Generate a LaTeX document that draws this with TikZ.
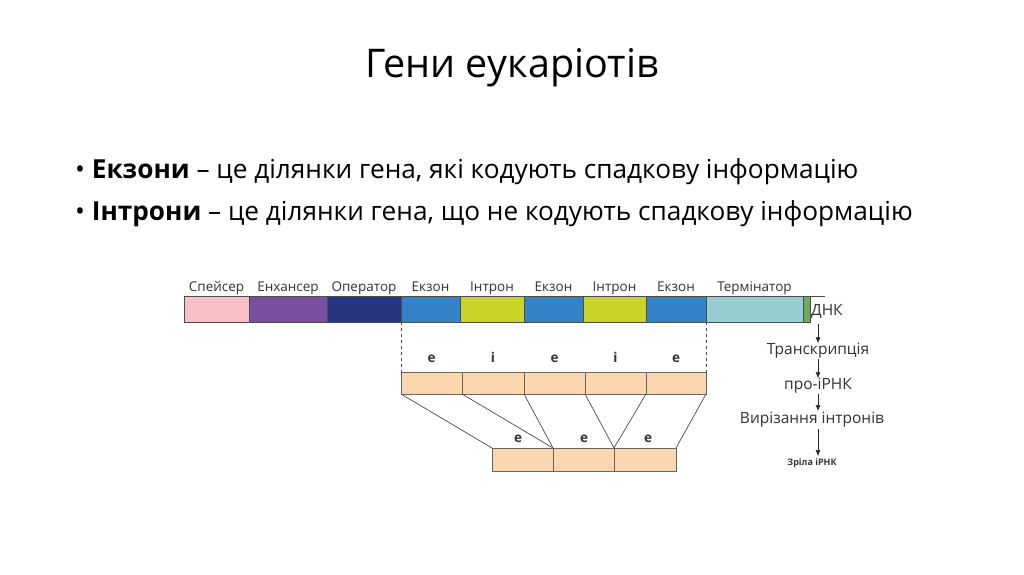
\documentclass[tikz,border=0pt]{standalone}
\usepackage{fontspec}
\setmainfont{Open Sans}
\usetikzlibrary{arrows.meta}
\definecolor{cpink}{RGB}{246,192,198}
\definecolor{cpurple}{RGB}{122,78,160}
\definecolor{cnavy}{RGB}{38,52,130}
\definecolor{cblue}{RGB}{52,130,200}
\definecolor{cyel}{RGB}{200,212,40}
\definecolor{cteal}{RGB}{150,206,210}
\definecolor{cgreen}{RGB}{110,170,90}
\definecolor{cbox}{RGB}{250,214,174}
\begin{document}
\begin{tikzpicture}[x=1pt,y=-1pt,
  seg/.style={draw=black!70,line width=0.6pt},
  box/.style={draw=black!60,fill=cbox,line width=0.6pt},
  lbl/.style={font=\fontsize{13.5}{14}\selectfont,text=black!80,inner sep=0},
  rlbl/.style={font=\fontsize{15.5}{16}\selectfont,text=black!80,inner sep=0},
  conn/.style={black!70,line width=0.7pt},
  arr/.style={-{Latex[length=6pt,width=5pt]},black!85,line width=0.6pt}]
\useasboundingbox (0,0) rectangle (1024,574);
\fill[white] (0,0) rectangle (1024,574);
\node[font=\fontsize{39.5}{42}\selectfont] (title) at (512,68) {Гени еукаріотів};
\node[anchor=west,font=\fontsize{26.2}{28}\selectfont,inner sep=0] (b1) at (75,172) {• \textbf{Екзони} – це ділянки гена, які кодують спадкову інформацію};
\node[anchor=west,font=\fontsize{26.2}{28}\selectfont,inner sep=0] (b2) at (75,214) {• \textbf{Інтрони} – це ділянки гена, що не кодують спадкову інформацію};
% top bar
\draw[black!70,line width=0.6pt] (184,296) -- (825,296);
\foreach \a/\b/\c/\t in {184/249/cpink/Спейсер,249/327/cpurple/Енхансер,327/401/cnavy/Оператор,401/460/cblue/Екзон,460/524/cyel/Інтрон,524/583/cblue/Екзон,583/646/cyel/Інтрон,646/706/cblue/Екзон,706/803/cteal/Термінатор}{
  \fill[\c] (\a,296) rectangle (\b,322);
  \draw[seg] (\a,296) rectangle (\b,322);
  \node[lbl,anchor=base] at ({(\a+\b)/2},291) {\t};
}
\fill[cgreen] (803,296) rectangle (810,322);
\draw[seg] (803,296) rectangle (810,322);
% middle row
\foreach \a/\b/\t in {401/462/e,462/524/i,524/585/e,585/646/i,646/706/e}{
  \draw[box] (\a,372) rectangle (\b,394);
  \node[lbl,anchor=base,font=\bfseries\fontsize{13.5}{14}\selectfont] at ({(\a+\b)/2},362) {\t};
}
\coordinate (m0) at (401,394); \coordinate (m1) at (462,394); \coordinate (m2) at (524,394);
\coordinate (m3) at (585,394); \coordinate (m4) at (646,394); \coordinate (m5) at (706,394);
\draw[dashed,black!70] (401,322) -- (401,372);
\draw[dashed,black!70] (706,322) -- (706,372);
% bottom row
\foreach \a/\b/\x in {492/553/518,553/614/584,614/676/648}{
  \draw[box] (\a,448) rectangle (\b,471);
  \node[lbl,anchor=base,font=\bfseries\fontsize{13.5}{14}\selectfont] at (\x,442) {e};
}
\coordinate (n0) at (492,448); \coordinate (n1) at (553,448); \coordinate (n2) at (614,448); \coordinate (n3) at (676,448);
\draw[conn] (m0) -- (n0); \draw[conn] (m1) -- (n1); \draw[conn] (m2) -- (n1);
\draw[conn] (m3) -- (n2); \draw[conn] (m4) -- (n2); \draw[conn] (m5) -- (n3);
% right column
\node[rlbl,anchor=west] (dna) at (811,311) {ДНК};
\node[rlbl] (tr) at (818,351) {Транскрипція};
\node[rlbl] (pro) at (818,386) {про-іРНК};
\node[rlbl] (cut) at (812,420) {Вирізання інтронів};
\node[lbl,font=\bfseries\fontsize{9}{9}\selectfont] (mat) at (812,463) {Зріла іРНК};
\draw[arr] (818,324) -- (tr.north);
\draw[arr] (tr.south) -- (pro.north);
\draw[arr] (pro.south) -- (818,411);
\draw[arr] (818,429) -- (818,456);
\end{tikzpicture}
\end{document}
